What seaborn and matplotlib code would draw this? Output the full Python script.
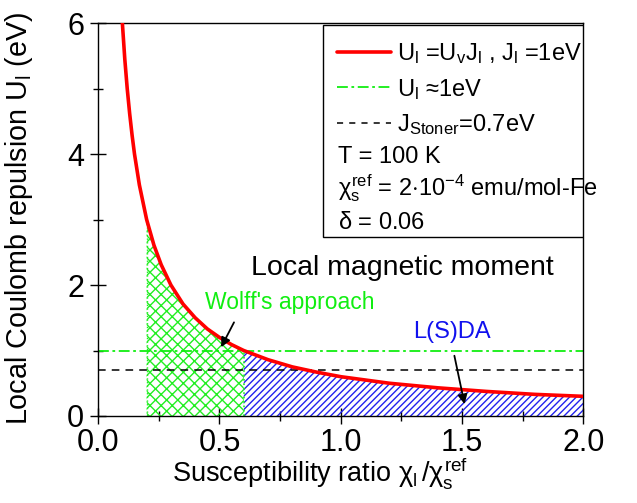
import numpy as np
import pandas as pd
import matplotlib
matplotlib.use("Agg")
import matplotlib.pyplot as plt
from matplotlib.patches import Rectangle
from matplotlib.lines import Line2D
import seaborn as sns

# ---- data ----
chi_ratio = [0.10, 0.11, 0.12, 0.13, 0.14, 0.15, 0.17, 0.20, 0.23, 0.26, 0.30,
             0.35, 0.40, 0.45, 0.50, 0.55, 0.60, 0.70, 0.80, 0.90, 1.00,
             1.20, 1.40, 1.60, 1.80, 2.00]
U_l = [6.00, 5.45, 5.00, 4.62, 4.29, 4.00, 3.53, 3.00, 2.61, 2.31, 2.00,
       1.71, 1.50, 1.33, 1.20, 1.09, 1.00, 0.86, 0.75, 0.67, 0.60,
       0.50, 0.43, 0.375, 0.33, 0.30]
U_approx = 1.0
J_stoner = 0.7
wolff_range = (0.2, 0.6)
lsda_range = (0.6, 2.0)

x_ticks = [0.0, 0.5, 1.0, 1.5, 2.0]
y_ticks = [0, 2, 4, 6]

sns.set_theme(style="ticks")
plt.rcParams['font.family'] = ['Liberation Sans', 'DejaVu Sans']
plt.rcParams['mathtext.fontset'] = 'custom'
plt.rcParams['mathtext.rm'] = 'Liberation Sans'
plt.rcParams['mathtext.it'] = 'Liberation Sans'
plt.rcParams['hatch.linewidth'] = 1.0

df = pd.DataFrame({"x": chi_ratio, "U": U_l})

fig = plt.figure(figsize=(6.37, 5.03), dpi=100)
ax = fig.add_axes([0.154, 0.173, 0.762, 0.781])

xa = np.array(chi_ratio)
ua = np.array(U_l)

GREEN = '#22ee22'
BLUE = '#2222ee'

# hatched regions
m1 = (xa >= wolff_range[0]) & (xa <= wolff_range[1])
ax.fill_between(xa[m1], 0, ua[m1], facecolor='none', edgecolor=GREEN,
                hatch='xxx', linewidth=0, zorder=1)
ax.vlines(wolff_range[0], 0, ua[xa == wolff_range[0]][0], colors=GREEN,
          linestyles=':', linewidth=1.0, zorder=1)
m2 = (xa >= lsda_range[0]) & (xa <= lsda_range[1])
ax.fill_between(xa[m2], 0, ua[m2], facecolor='none', edgecolor=BLUE,
                hatch='/////', linewidth=0, zorder=1)
ax.vlines(lsda_range[0], 0, U_approx, colors=GREEN, linestyles=':',
          linewidth=1.2, zorder=1)

# horizontal reference lines
DASHDOT = (0, (6, 2, 1.5, 2))
ax.axhline(U_approx, color='#11ee11', linestyle=DASHDOT, linewidth=1.3, zorder=2)
ax.axhline(J_stoner, color='black', linestyle=(0, (5, 4)), linewidth=1.1, zorder=2)

# main curve
sns.lineplot(data=df, x="x", y="U", color='#ff0000', linewidth=2.6, ax=ax,
             zorder=3, sort=True)

ax.set_xlim(0, 2)
ax.set_ylim(0, 6)
ax.set_xticks(x_ticks)
ax.set_xticklabels([f"{v:.1f}" for v in x_ticks])
ax.set_yticks(y_ticks)
ax.set_xticks(np.arange(0.25, 2.0, 0.5), minor=True)
ax.set_yticks([1, 3, 5], minor=True)
ax.tick_params(which='major', direction='inout', length=12, width=1.0,
               labelsize=22, color='black', labelcolor='black')
ax.tick_params(axis='x', which='major', pad=2.5)
ax.tick_params(axis='y', which='major', pad=4)
ax.tick_params(which='minor', direction='inout', length=6.5, width=1.0, color='black')
for s in ax.spines.values():
    s.set_color('black')
    s.set_linewidth(1.0)

ax.set_xlabel(r"Susceptibility ratio $\chi_l\,/\chi_s^{ref}$", fontsize=19.5,
              color='black')
ax.xaxis.set_label_coords(0.458, -0.099)
ax.set_ylabel(r"Local Coulomb repulsion U$_l$ (eV)", fontsize=20.7,
              color='black')
ax.yaxis.set_label_coords(-0.13, 0.5025)

# annotations
ax.text(0.63, 2.26, "Local magnetic moment", fontsize=20.5, color='black',
        va='center', ha='left')
ax.text(0.44, 1.73, "Wolff's approach", fontsize=16.5, color='#11ee11',
        va='center', ha='left')
ax.annotate("", xy=(0.507, 1.05), xytext=(0.56, 1.43),
            arrowprops=dict(arrowstyle='-|>', color='black', lw=1.3,
                            mutation_scale=14, shrinkA=0, shrinkB=0))
ax.text(1.46, 1.28, "L(S)DA", fontsize=17, color='#1111ee',
        va='center', ha='center')
ax.annotate("", xy=(1.51, 0.18), xytext=(1.468, 0.92),
            arrowprops=dict(arrowstyle='-|>', color='black', lw=1.3,
                            mutation_scale=14, shrinkA=0, shrinkB=0))

# legend box
box = Rectangle((0.464, 0.455), 0.534, 0.540, transform=ax.transAxes,
                facecolor='white', edgecolor='black', linewidth=1.0, zorder=5)
ax.add_patch(box)
handles = [Line2D([], [], color='#ff0000', lw=2.6),
           Line2D([], [], color='#11ee11', lw=1.3, linestyle=DASHDOT),
           Line2D([], [], color='black', lw=1.1, linestyle=(0, (4, 4)))]
labels = [r"U$_l$ =U$_v$J$_l$ , J$_l$ =1eV", r"U$_l$ ≈1eV",
          r"J$_{Stoner}$=0.7eV"]
leg = ax.legend(handles, labels, loc='upper left', bbox_to_anchor=(0.463, 0.99),
                frameon=False, fontsize=17, handlelength=2.3, handletextpad=0.25,
                labelspacing=0.45, borderaxespad=0.2)
leg.set_zorder(6)
for t in leg.get_texts():
    t.set_color('black')
extra = ["T = 100 K", r"$\chi_s^{ref}$ = 2$\cdot$10$^{-4}$ emu/mol-Fe",
         r"$\delta$ = 0.06"]
ys = [0.659, 0.580, 0.491]
for s, yy in zip(extra, ys):
    ax.text(0.495, yy, s, transform=ax.transAxes, fontsize=17, color='black',
            va='center', ha='left', zorder=7)

fig.savefig("out.png", dpi=100)
